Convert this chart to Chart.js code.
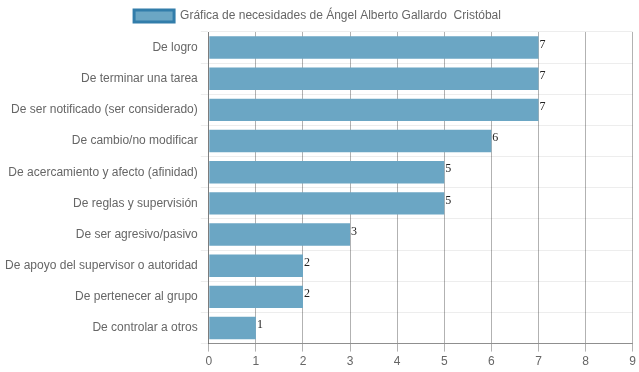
<!DOCTYPE html>
<html>
<head>
<meta charset="utf-8">
<script src="https://cdn.jsdelivr.net/npm/chart.js@4"></script>
<style>
  body { margin: 0; background: #fff; }
  #wrap { width: 639px; height: 372px; }
</style>
</head>
<body>
<div id="wrap"><canvas id="needsChart" width="639" height="372"></canvas></div>
<script>
const categories = [
  "De logro",
  "De terminar una tarea",
  "De ser notificado (ser considerado)",
  "De cambio/no modificar",
  "De acercamiento y afecto (afinidad)",
  "De reglas y supervisión",
  "De ser agresivo/pasivo",
  "De apoyo del supervisor o autoridad",
  "De pertenecer al grupo",
  "De controlar a otros"
];
const values = [7, 7, 7, 6, 5, 5, 3, 2, 2, 1];
const seriesName = "Gráfica de necesidades de Ángel Alberto Gallardo  Cristóbal";
const xTicks = [0, 1, 2, 3, 4, 5, 6, 7, 8, 9];

Chart.defaults.font.family = "'Liberation Sans', Arial, sans-serif";
Chart.defaults.font.size = 12;
Chart.defaults.color = "#666";

// write the value at the end of each bar
const valueLabels = {
  id: "valueLabels",
  afterDatasetsDraw(chart) {
    const c = chart.ctx;
    const meta = chart.getDatasetMeta(0);
    c.save();
    c.font = "12px 'Liberation Serif', serif";
    c.fillStyle = "#222";
    c.textAlign = "left";
    c.textBaseline = "middle";
    meta.data.forEach((bar, i) => {
      c.fillText(values[i], bar.x + 1, bar.y - 3);
    });
    c.restore();
  }
};

const ctx = document.getElementById("needsChart").getContext("2d");
new Chart(ctx, {
  type: "bar",
  data: {
    labels: categories,
    datasets: [{
      label: seriesName,
      data: values,
      backgroundColor: "rgba(107,166,196,1)",
      borderColor: "rgba(60,130,170,1)",
      borderWidth: 0
    }]
  },
  options: {
    indexAxis: "y",
    responsive: false,
    animation: false,
    layout: { padding: { left: 2, right: 6, top: 0, bottom: 0 } },
    plugins: {
      legend: {
        position: "top",
        labels: {
          boxWidth: 40,
          boxHeight: 12,
          generateLabels(chart) {
            return [{
              text: seriesName,
              fillStyle: "rgba(107,166,196,1)",
              strokeStyle: "rgba(50,125,170,1)",
              lineWidth: 3,
              datasetIndex: 0,
              fontColor: "#666"
            }];
          }
        }
      },
      tooltip: { enabled: false }
    },
    scales: {
      x: {
        min: 0,
        max: 9,
        afterBuildTicks(axis) {
          axis.ticks = xTicks.map(v => ({ value: v }));
        },
        grid: { color: "rgba(0,0,0,0.3)", tickLength: 8 },
        border: { color: "rgba(0,0,0,0.4)" },
        ticks: { color: "#666" }
      },
      y: {
        grid: { color: "rgba(0,0,0,0.07)", tickLength: 8 },
        border: { color: "rgba(0,0,0,0.3)" },
        ticks: { color: "#666" }
      }
    }
  },
  plugins: [valueLabels]
});
</script>
</body>
</html>
